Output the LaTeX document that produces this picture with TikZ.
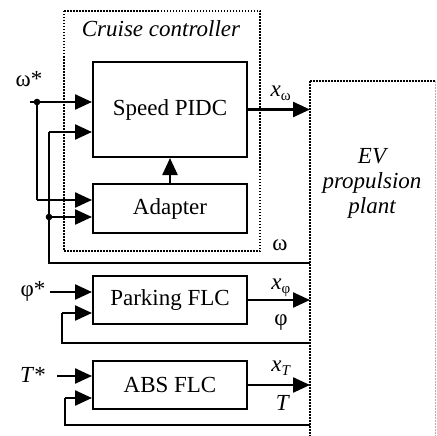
\documentclass[tikz,border=0pt]{standalone}
\usepackage{fontspec}
\setmainfont{Liberation Serif}
\usetikzlibrary{arrows.meta}
\begin{document}
\begin{tikzpicture}[x=1pt,y=-1pt,
  blk/.style={draw,line width=2pt,minimum width=154pt,inner sep=0pt,font=\fontsize{23}{26}\selectfont},
  arr/.style={line width=2.4pt,-{Triangle[length=17pt,width=15pt]}},
  fb/.style={line width=1.4pt},
  dotbox/.style={line width=2pt,dash pattern=on 1.5pt off 1.5pt},
  lbl/.style={font=\fontsize{23}{26}\selectfont,inner sep=0pt}]
\useasboundingbox (0,0) rectangle (436,436);
% cruise controller frame
\draw[dotbox] (64,11) rectangle (260,251);
\node[lbl,anchor=base] (cc) at (161,37) {\textit{Cruise controller}};
% blocks
\node[blk,minimum height=95pt] (pidc) at (170,109.5) {Speed PIDC};
\node[blk,minimum height=49pt] (adp) at (170,208.5) {Adapter};
\node[blk,minimum height=48pt] (park) at (170,300) {Parking FLC};
\node[blk,minimum height=48pt] (abs) at (170,385) {ABS FLC};
% plant frame
\coordinate (pl) at (310,81);
\coordinate (pr) at (435,81);
\draw[line width=2pt,dash pattern=on 1.5pt off 1.5pt] (pl) -- (310,436);
\draw[line width=1.3pt,dash pattern=on 1.5pt off 1.5pt] (pl) -- (pr);
\draw[line width=1pt,gray!60,dash pattern=on 1.5pt off 1.5pt] (pr) -- (435,436);
\node[lbl,align=center,font=\fontsize{23}{25}\selectfont\itshape] (ev) at (372,183) {EV\\propulsion\\plant};
% omega* inputs
\coordinate (ws) at (30,102);
\coordinate (wd) at (37,102);
\coordinate (wa) at (37,200);
\node[lbl] (wstar) at (29,79) {ω*};
\draw[arr] (ws) -- (pidc.west |- ws);
\draw[fb] (wd) -- (wa);
\draw[arr] (wa) -- (adp.west |- wa);
\fill (wd) circle[radius=3.3pt];
% omega feedback
\coordinate (wf0) at (310,263);
\coordinate (wf1) at (49,263);
\coordinate (wf2) at (49,132);
\coordinate (wfd) at (49,217);
\draw[fb] (wf0) -- (wf1) -- (wf2);
\draw[arr] (wf2) -- (pidc.west |- wf2);
\draw[arr] (wfd) -- (adp.west |- wfd);
\fill (wfd) circle[radius=3.3pt];
\node[lbl] (wlab) at (280,245) {ω};
% adapter to pidc
\draw[arr] (adp.north) -- (pidc.south);
% pidc output
\draw[arr] (pidc.east) -- (pidc.east -| pl);
\node[lbl] (xw) at (281,93) {\textit{x}\textsubscript{\fontsize{15}{15}\selectfont ω}};
% parking
\coordinate (ps) at (50,292);
\node[lbl] (phistar) at (33,291) {φ*};
\draw[arr] (ps) -- (park.west |- ps);
\coordinate (pf0) at (310,343);
\coordinate (pf1) at (62,343);
\coordinate (pf2) at (62,313);
\draw[fb] (pf0) -- (pf1) -- (pf2);
\draw[arr] (pf2) -- (park.west |- pf2);
\draw[arr] (park.east) -- (park.east -| pl);
\node[lbl] (xp) at (281,288) {\textit{x}\textsubscript{\fontsize{15}{15}\selectfont φ}};
\node[lbl] (phil) at (281,323) {φ};
% ABS
\coordinate (ts) at (57,376);
\node[lbl] (tstar) at (33,375) {\textit{T}*};
\draw[arr] (ts) -- (abs.west |- ts);
\coordinate (tf0) at (310,425);
\coordinate (tf1) at (65,425);
\coordinate (tf2) at (65,398);
\draw[fb] (tf0) -- (tf1) -- (tf2);
\draw[arr] (tf2) -- (abs.west |- tf2);
\draw[arr] (abs.east) -- (abs.east -| pl);
\node[lbl] (xt) at (281,368) {\textit{x}\textsubscript{\fontsize{15}{15}\selectfont\itshape T}};
\node[lbl] (tl) at (283,403) {\textit{T}};
\end{tikzpicture}
\end{document}
